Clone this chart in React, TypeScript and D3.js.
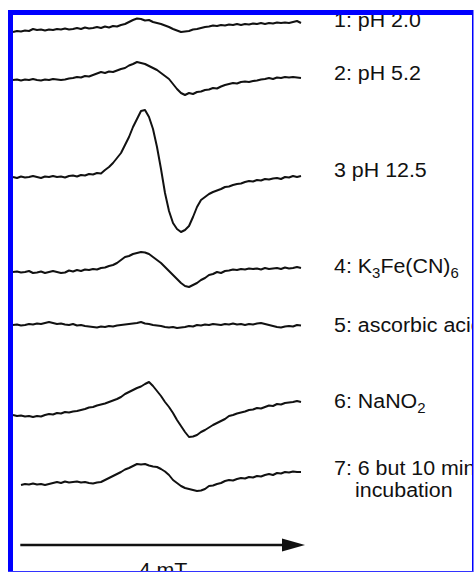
import React from 'react';
import * as d3 from 'd3';

const WIDTH = 474;
const HEIGHT = 573;

// Field sweep (mT) and number of recorded points per spectrum
const SWEEP_MT = 4;
const N_POINTS = 73;

// First-derivative EPR spectra, intensity in arbitrary units (positive = up)
const spec1 = [
  0, 1, 0.5, 1.5, 1, 3, 2, 2.5, 1.5, 2.5,
  2, 3, 2.5, 3.5, 2.5, 3, 4, 3, 4.5, 3.5,
  4, 5, 4, 5.5, 4.5, 6, 5.5, 7, 8, 10,
  12, 13.5, 13, 11.5, 12, 10, 9, 8, 6.5, 5,
  3, 1.5, 0, 0.5, 1, 2.5, 3, 4, 5, 5.5,
  6.5, 6, 7, 6.5, 7.5, 7, 8, 7, 8, 7.5,
  8.5, 8, 9, 8, 9, 8.5, 9.5, 9, 9.5, 9,
  10, 11, 9,
];
const spec2 = [
  0, 0.5, -0.5, 0.5, 0, 1, 0, -0.5, 0.5, 0,
  1, 0.5, 0, 0.5, 1.5, 2, 3, 2.5, 4, 3.5,
  5, 6.5, 8, 7, 8.5, 8, 9.5, 11, 12, 14.5,
  16, 18, 17, 16, 14, 12, 10, 7, 4, 1,
  -4, -9, -13, -15, -13, -14, -12, -11.5, -10, -9.5,
  -8, -8.5, -6.5, -5, -4, -3, -3.5, -2, -1.5, -2,
  -1, -0.5, 0.5, 1, 2, 1, 2.5, 2, 3, 2.5,
  3, 2.5, 2,
];
const spec3 = [
  0, -1, 0.5, -0.5, 0, 1, 0, -1, 0.5, 0,
  1, 0, 0.5, -0.5, 1, 1.5, 0.5, 2, 1.5, 3,
  2.5, 4, 3.5, 7, 10, 14, 19, 24, 32, 40,
  50, 58, 66, 67, 60, 48, 30, 8, -16, -34,
  -46, -52, -55, -53, -49, -40, -30, -23, -20, -17,
  -15, -13.5, -12, -10, -9.5, -8, -7, -6.5, -5, -4,
  -4.5, -3, -3.5, -2, -2.5, -1.5, -1, -2, 0, -0.5,
  1, 0, 1,
];
const spec4 = [
  0, 0.5, -0.5, 0, 1, -1, -0.5, 0.5, -1, 0,
  1, 0, -1, -0.5, 1.5, 0.5, 2, 1, 2.5, 2,
  3, 2.5, 4, 4.5, 6, 7, 9, 12, 15, 16,
  18, 19, 20, 19.5, 18, 15, 12, 9, 5, 1,
  -3, -7, -11, -14, -15, -13, -11, -8, -6, -3,
  -2, 0, -1, 1, 1.5, 2.5, 2, 3, 2.5, 3.5,
  3, 3.5, 2.5, 4, 3, 3.5, 4, 3, 4.5, 3.5,
  4, 5, 4,
];
const spec5 = [
  0, 0.5, -0.5, 0, 1, 0.5, 1.5, 1, 2, 3,
  2, 1, 1.5, 0.5, 0, 1, -0.5, 0, -1, -1.5,
  -2, -2.5, -1.5, -2, -1, -1.5, -0.5, 0, 0.5, 1,
  1.5, 2, 3, 1.5, 1, 0, -0.5, -1, -2, -2.5,
  -2, -3, -2.5, -2, -1, -1.5, 0, -0.5, 0.5, 0,
  1, 0.5, 0, 1, 0.5, 1.5, 0.5, 1, 0, 1,
  0.5, 1.5, 2, 1, 0, -1, -2, -2.5, -1.5, -1,
  -1.5, 0, -0.5,
];
const spec6 = [
  0, -1, -0.5, -1.5, -1, -2, -1, -1.5, 0, 1,
  0.5, 2, 1.5, 3, 2.5, 3.5, 4, 5, 6, 7.5,
  8, 9.5, 10.5, 11.5, 13, 14.5, 16, 18, 21, 23,
  25, 27, 28.5, 31, 33, 29, 24, 19, 13, 8,
  2, -5, -11, -17, -22, -21.5, -20, -17, -15, -12.5,
  -10, -8, -6, -4, -1, 0, 1.5, 2.5, 3.5, 5,
  5.5, 7, 6.5, 8, 9.5, 9, 11, 10.5, 12, 12.5,
  13, 14, 13,
];
const spec7: (number | null)[] = [
  null, null, 0, 1, 0.5, 1.5, 0.5, 1, 0, 1,
  2, 3, 2, 3.5, 2.5, 3, 3.5, 2.5, 3, 2,
  1.5, 2.5, 3, 5, 7, 9, 11, 13, 15.5, 17,
  19, 21, 20.5, 21, 19.5, 18.5, 18, 16, 13.5, 10,
  5, 2, -1, -3, -4, -5, -6, -5.5, -4, -1,
  -0.5, 1, 2, 4, 5, 4.5, 6, 7, 6.5, 8,
  7.5, 9, 8.5, 10, 11, 10, 12, 11.5, 13, 12.5,
  13.5, 13, 13,
];

const spectra: (number | null)[][] = [spec1, spec2, spec3, spec4, spec5, spec6, spec7];

// Sample labels; "_x" marks a subscript character
const sampleLabels: string[][] = [
  ['1: pH 2.0'],
  ['2: pH 5.2'],
  ['3 pH 12.5'],
  ['4: K_3Fe(CN)_6'],
  ['5: ascorbic acid'],
  ['6: NaNO_2'],
  ['7: 6 but 10 min', 'incubation'],
];

const fieldLabel = '4 mT';

// Vertical stacking of the spectra (baseline y) and label baselines
const BASELINES = [32, 80, 177, 272, 325, 415, 485];
const LABEL_Y = [27, 80, 177, 273, 332, 408, 475];
const LABEL_X = 334;
const LINE_GAP = 22;
const CONT_INDENT = 21;
const TEXT_STRETCH = 1.07;

const FONT = "'Liberation Sans', Arial, Helvetica, sans-serif";

function LabelText({ text, x, y }: { text: string; x: number; y: number }) {
  const parts: { t: string; sub: boolean }[] = [];
  let buf = '';
  for (let i = 0; i < text.length; i++) {
    if (text[i] === '_' && i + 1 < text.length) {
      if (buf) parts.push({ t: buf, sub: false });
      buf = '';
      parts.push({ t: text[i + 1], sub: true });
      i++;
    } else {
      buf += text[i];
    }
  }
  if (buf) parts.push({ t: buf, sub: false });
  let prevSub = false;
  return (
    <text
      transform={`translate(${x},${y}) scale(${TEXT_STRETCH},1)`}
      fontSize={20}
      fontFamily={FONT}
      fill="#111"
      style={{ whiteSpace: 'pre' }}
    >
      {parts.map((p, k) => {
        const dy = p.sub && !prevSub ? 5 : !p.sub && prevSub ? -5 : 0;
        prevSub = p.sub;
        return (
          <tspan key={k} dy={dy} fontSize={p.sub ? 14 : 20}>
            {p.t}
          </tspan>
        );
      })}
    </text>
  );
}

export default function App() {
  const step = SWEEP_MT / N_POINTS;
  const x = d3.scaleLinear().domain([0, SWEEP_MT]).range([13, 305]);
  // 1 intensity unit = 1 px, positive upwards
  const amp = d3.scaleLinear().domain([-100, 100]).range([100, -100]);

  const line = d3
    .line<number | null>()
    .defined((d) => d != null)
    .x((_, i) => x(i * step))
    .y((d) => amp(d as number));

  const arrowY = 545;
  const arrowX0 = x(0.1);
  const arrowX1 = x(SWEEP_MT);
  const headLen = 23;
  const headHalf = 6.5;

  return (
    <svg
      width={WIDTH}
      height={HEIGHT}
      viewBox={`0 0 ${WIDTH} ${HEIGHT}`}
      style={{ position: 'absolute', left: 0, top: 0, background: '#fff' }}
    >
      <defs>
        <clipPath id="frame-clip">
          <rect x={8} y={10} width={464} height={561} />
        </clipPath>
      </defs>
      <rect x={0} y={0} width={WIDTH} height={HEIGHT} fill="#fff" />
      <g clipPath="url(#frame-clip)">
        {spectra.map((s, i) => (
          <g key={i} transform={`translate(0,${BASELINES[i]})`}>
            <path d={line(s) || ''} fill="none" stroke="#111" strokeWidth={2} strokeLinejoin="round" />
          </g>
        ))}
        {sampleLabels.map((lines, i) =>
          lines.map((t, j) => (
            <LabelText
              key={`${i}-${j}`}
              text={t}
              x={LABEL_X + (j > 0 ? CONT_INDENT : 0)}
              y={LABEL_Y[i] + j * LINE_GAP}
            />
          ))
        )}
        <line x1={arrowX0} x2={arrowX1 - headLen + 2} y1={arrowY} y2={arrowY} stroke="#111" strokeWidth={2.6} />
        <path
          d={`M${arrowX1 - headLen},${arrowY - headHalf} L${arrowX1},${arrowY} L${arrowX1 - headLen},${arrowY + headHalf} Z`}
          fill="#111"
        />
        <text
          transform={`translate(163,577) scale(${TEXT_STRETCH},1)`}
          fontSize={20}
          fontFamily={FONT}
          fill="#111"
          textAnchor="middle"
        >
          {fieldLabel}
        </text>
      </g>
      {/* frame */}
      <rect x={8} y={10} width={5} height={562} fill="#0000ff" />
      <rect x={8} y={10} width={465} height={5} fill="#0000ff" />
      <rect x={472} y={10} width={1.5} height={562} fill="#0000ff" />
      <rect x={8} y={571} width={465} height={1} fill="#3333ff" />
    </svg>
  );
}
